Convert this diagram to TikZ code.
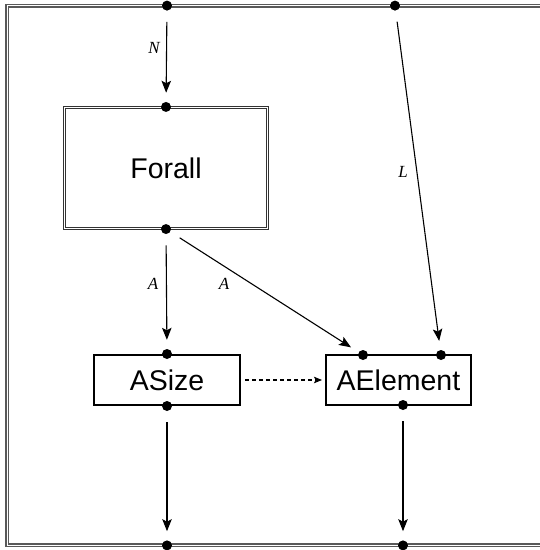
\documentclass[tikz,border=0pt]{standalone}
\usepackage{fontspec}
\setmainfont{Liberation Sans}
\newfontfamily\lblfont{Liberation Serif}
\usetikzlibrary{arrows.meta}
\tikzset{
  outerframe/.style={draw=black!65, line width=1.3pt, double=white, double distance=1.4pt},
  boxtext/.style={font=\fontsize{28.5}{30}\selectfont},
  dblbox/.style={boxtext, draw=black!80, line width=1.1pt, double=white, double distance=1.3pt,
    minimum width=203pt, minimum height=121pt, inner sep=0pt},
  plainbox/.style={boxtext, draw=black, line width=2pt, inner sep=0pt, minimum height=50pt},
  portdot/.style={circle, fill=black, inner sep=0pt, minimum size=10pt},
  flow/.style={-{Stealth[length=12pt,width=9.5pt,inset=2.5pt]}, line width=1.1pt,
    shorten <=11pt, shorten >=9pt},
  dep/.style={-{Stealth[length=8pt,width=6.5pt,inset=1.5pt]}, line width=1.1pt,
    dash pattern=on 4pt off 3pt, shorten <=4pt, shorten >=3pt},
  lbl/.style={font=\lblfont\itshape\fontsize{17}{18}\selectfont, inner sep=0pt}
}
\begin{document}
\begin{tikzpicture}[x=1pt, y=-1pt]
  \useasboundingbox (0,0) rectangle (540,550);
  \clip (0,0) rectangle (540,550);

  % enclosing frame
  \draw[outerframe] (7.4,5.6) rectangle (548,545.4);

  % boxes
  \node[dblbox] (forall) at (166,168) {Forall};
  \node[plainbox, minimum width=146pt] (asize) at (167,380) {ASize};
  \node[plainbox, minimum width=145pt] (aelem) at (398.5,380) {AElement};

  % ports on the frame
  \node[portdot] (inN) at (167,5.6) {};
  \node[portdot] (inL) at (395,5.6) {};
  \node[portdot] (outS) at (167,545.4) {};
  \node[portdot] (outE) at (403,545.4) {};

  % ports on the boxes
  \node[portdot] (forallIn) at (forall.north) {};
  \node[portdot] (forallOut) at (forall.south) {};
  \node[portdot] (asizeIn) at (asize.north) {};
  \node[portdot] (asizeOut) at (asize.south) {};
  \node[portdot] (aelemA) at (363,355) {};
  \node[portdot] (aelemL) at (441,355) {};
  \node[portdot] (aelemOut) at (403,405) {};

  % connectors
  \draw[flow] (inN) -- (forallIn);
  \draw[flow] (forallOut) -- (asizeIn);
  \draw[flow] (forallOut) -- (aelemA);
  \draw[flow] (inL) -- (aelemL);
  \draw[flow] (asizeOut) -- (outS);
  \draw[flow] (aelemOut) -- (outE);
  \draw[dep] (asize.east) -- (aelem.west);

  % labels
  \node[lbl] (labN) at (154,48) {N};
  \node[lbl] (labA1) at (153,284) {A};
  \node[lbl] (labA2) at (224,284) {A};
  \node[lbl] (labL) at (403,172) {L};
\end{tikzpicture}
\end{document}
